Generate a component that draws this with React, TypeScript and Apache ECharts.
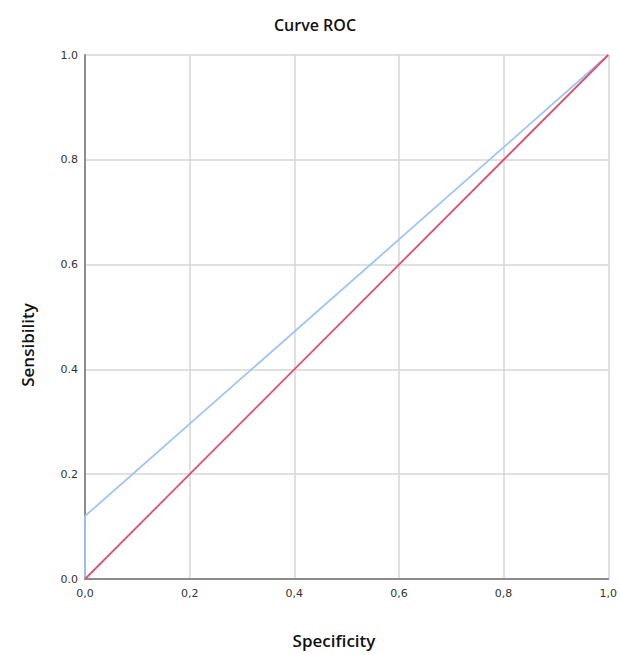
import React, { useEffect, useRef } from "react";
import * as echarts from "echarts";

const diagonalX = [0, 1];
const diagonalY = [0, 1];
const rocX = [0, 0, 1];
const rocY = [0, 0.12, 1];

export default function App() {
  const ref = useRef<HTMLDivElement>(null);
  useEffect(() => {
    document.body.style.margin = "0";
    if (!ref.current) return;
    const chart = echarts.init(ref.current, undefined, { renderer: "svg" });
    chart.setOption({
      animation: false,
      backgroundColor: "#ffffff",
      title: {
        text: "Curve ROC",
        left: 310,
        textAlign: "center",
        top: 12,
        textStyle: { fontFamily: "Open Sans", fontSize: 16, fontWeight: 600, color: "#111" },
      },
      grid: { left: 85, top: 55, right: 9, bottom: 76 },
      xAxis: {
        type: "value",
        min: 0,
        max: 1,
        interval: 0.2,
        axisLine: { show: true, lineStyle: { color: "#8c8c8c", width: 2 } },
        axisTick: { show: false },
        axisLabel: {
          color: "#333",
          fontFamily: "DejaVu Sans",
          fontSize: 11,
          margin: 9,
          formatter: (v: number) => v.toFixed(1).replace(".", ","),
        },
        splitLine: { show: true, lineStyle: { color: "#d6d6d6", width: 1.5 } },
      },
      yAxis: {
        type: "value",
        min: 0,
        max: 1,
        interval: 0.2,
        axisLine: { show: true, lineStyle: { color: "#8c8c8c", width: 2 } },
        axisTick: { show: false },
        axisLabel: {
          color: "#333",
          fontFamily: "DejaVu Sans",
          fontSize: 11,
          margin: 7,
          formatter: (v: number) => v.toFixed(1),
        },
        splitLine: { show: true, lineStyle: { color: "#d6d6d6", width: 1.5 } },
      },
      graphic: [
        {
          type: "text",
          x: 334,
          y: 640,
          style: {
            text: "Specificity",
            fontFamily: "Open Sans",
            fontSize: 17,
            fontWeight: 600,
            fill: "#111",
            align: "center",
            verticalAlign: "middle",
          },
        },
        {
          type: "text",
          x: 27,
          y: 345,
          rotation: Math.PI / 2,
          style: {
            text: "Sensibility",
            fontFamily: "Open Sans",
            fontSize: 17,
            fontWeight: 600,
            fill: "#111",
            align: "center",
            verticalAlign: "middle",
          },
        },
      ],
      series: [
        {
          type: "line",
          data: diagonalX.map((x, i) => [x, diagonalY[i]]),
          symbol: "none",
          lineStyle: { color: "#e0506e", width: 1.8 },
          z: 3,
        },
        {
          type: "line",
          data: rocX.map((x, i) => [x, rocY[i]]),
          symbol: "none",
          lineStyle: { color: "#9ec5f2", width: 1.8 },
          z: 2,
        },
      ],
    });
    return () => chart.dispose();
  }, []);
  return <div ref={ref} style={{ width: 620, height: 655 }} />;
}
